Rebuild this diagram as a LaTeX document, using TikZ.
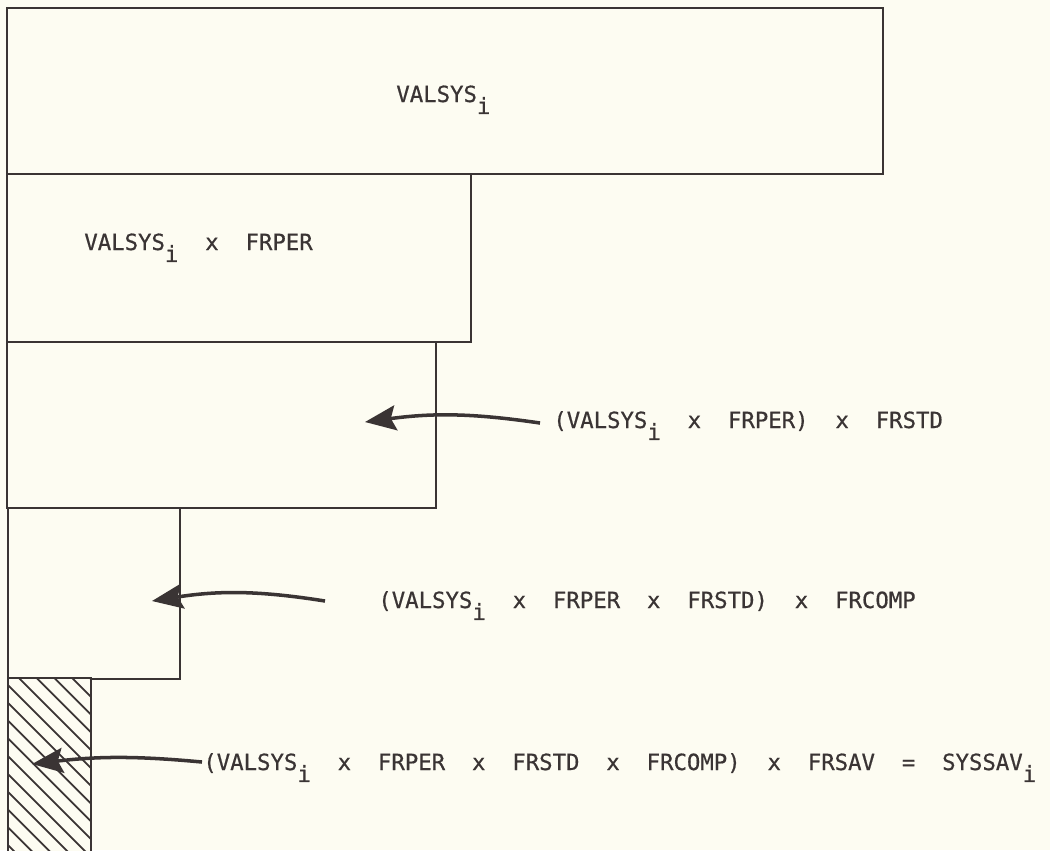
\documentclass[tikz,border=0pt]{standalone}
\usepackage{fontspec}
\setmonofont[FakeBold=0.6]{DejaVu Sans Mono}
\usepackage{tikz}
\usetikzlibrary{arrows.meta, positioning}
\definecolor{paper}{HTML}{FDFCF2}
\definecolor{ink}{HTML}{3A3434}
\newcommand{\subidx}[1]{\raisebox{-6.8pt}{#1}}
\tikzset{
  level/.style = {rectangle, draw=ink, line width=1.3pt, fill=paper, anchor=north west, inner sep=0pt},
  expr/.style = {anchor=base west, inner sep=0pt, text=ink, font=\ttfamily\fontsize{12.7}{15}\selectfont},
  flow/.style = {draw=ink, line width=2pt, -{Stealth[length=0.62cm, width=0.5cm, inset=0.1cm]}},
  hatch/.style = {draw=ink, line width=1pt}
}

\begin{document}
\begin{tikzpicture}[x=0.02cm, y=-0.02cm]

\useasboundingbox (0,0) rectangle (1050,850);
\fill[paper] (0,0) rectangle (1050,850);

% Levels
\node (total) [level, minimum width=17.52cm, minimum height=3.32cm] at (6,7) {};
\node (perf) [level, minimum width=9.28cm, minimum height=3.36cm] at (6,173) {};
\node (std) [level, minimum width=8.58cm, minimum height=3.32cm] at (6,341) {};
\node (comp) [level, minimum width=3.44cm, minimum height=3.42cm] at (7,507) {};
\node (sav) [level, draw=none, minimum width=1.62cm, minimum height=3.44cm] at (8,678) {};

% Hatching of the savings bar
\begin{scope}
\clip (sav.south west) rectangle (sav.north east);
\foreach \k in {0,...,15}
  \draw[hatch] (8,{596+17.8*\k}) -- ++(120,120);
\end{scope}
\draw[ink, line width=1.3pt] (sav.south west) -- (sav.north west) -- (sav.north east) -- (sav.south east);

% Expressions
\node (expr1) [expr] at (396,102) {VALSYS\subidx{i}};
\node (expr2) [expr] at (84,250) {VALSYS\subidx{i}\ \ x\ \ FRPER};
\node (expr3) [expr] at (553,428) {(VALSYS\subidx{i}\ \ x\ \ FRPER)\ \ x\ \ FRSTD};
\node (expr4) [expr] at (378,608) {(VALSYS\subidx{i}\ \ x\ \ FRPER\ \ x\ \ FRSTD)\ \ x\ \ FRCOMP};
\node (expr5) [expr] at (203,770) {(VALSYS\subidx{i}\ \ x\ \ FRPER\ \ x\ \ FRSTD\ \ x\ \ FRCOMP)\ \ x\ \ FRSAV\ \ =\ \ SYSSAV\subidx{i}};

% Arrows
\coordinate (tail3) at (540,423);
\coordinate (tip3) at (365,422);
\coordinate (tail4) at (325,601);
\coordinate (tip4) at (152,601);
\coordinate (tail5) at (202,762);
\coordinate (tip5) at (32,764);

\draw[flow] (tail3) to[bend right=8] (tip3);
\draw[flow] (tail4) to[bend right=9] (tip4);
\draw[flow] (tail5) to[bend right=6] (tip5);

\end{tikzpicture}
\end{document}
